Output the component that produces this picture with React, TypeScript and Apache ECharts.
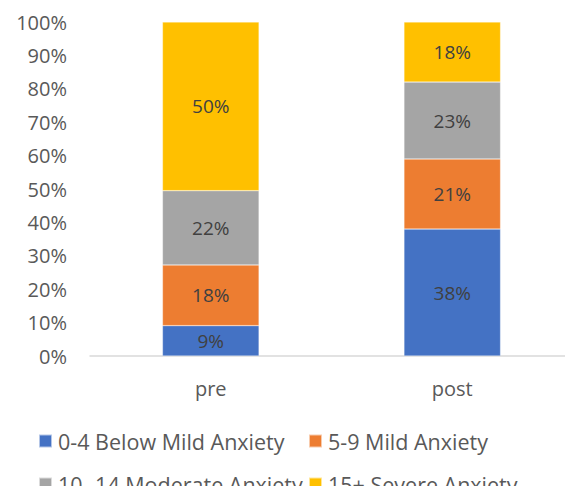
import React, { useEffect, useRef } from "react";
import * as echarts from "echarts";

// Survey groups on the x axis
const categories = ["pre", "post"];

// Share of respondents (%) per anxiety band, per group
const belowMild = [9, 38];
const mild = [18, 21];
const moderate = [22, 23];
const severe = [50, 18];

const seriesNames = [
  "0-4 Below Mild Anxiety",
  "5-9 Mild Anxiety",
  "10 -14 Moderate Anxiety",
  "15+ Severe Anxiety",
];

const yTicks = [0, 10, 20, 30, 40, 50, 60, 70, 80, 90, 100];

const colors = ["#4472C4", "#ED7D31", "#A5A5A5", "#FFC000"];

const FONT = "'Open Sans', sans-serif";

// Legend laid out as a 2x2 grid: [left, top] per entry
const legendSlots: [number, number][] = [
  [38, 430],
  [308, 430],
  [38, 473],
  [308, 473],
];

export default function App() {
  const ref = useRef<HTMLDivElement>(null);

  useEffect(() => {
    if (!ref.current) return;
    const chart = echarts.init(ref.current, undefined, { renderer: "svg" });

    const all = [belowMild, mild, moderate, severe];
    // 100% stacked: each column is scaled so its bands fill the full height
    const totals = categories.map((_, i) => all.reduce((s, arr) => s + arr[i], 0));

    const series = all.map((arr, k) => ({
      name: seriesNames[k],
      type: "bar",
      stack: "total",
      barWidth: "40%",
      itemStyle: { color: colors[k], borderColor: "rgba(255,255,255,0.6)", borderWidth: 0.5 },
      label: {
        show: true,
        position: "inside",
        color: "#404040",
        fontSize: 19,
        fontFamily: FONT,
        formatter: (p: any) => `${arr[p.dataIndex]}%`,
      },
      data: arr.map((v, i) => (v / totals[i]) * 100),
    }));

    const legends = seriesNames.map((name, k) => ({
      left: legendSlots[k][0],
      top: legendSlots[k][1],
      padding: 0,
      itemWidth: 13,
      itemHeight: 13,
      icon: "rect",
      data: [name],
      textStyle: { color: "#595959", fontSize: 21.5, fontFamily: FONT, padding: [0, 0, 0, 1] },
    }));

    chart.setOption({
      animation: false,
      color: colors,
      grid: { left: 90, right: 0, top: 22, bottom: 138 },
      xAxis: {
        type: "category",
        data: categories,
        axisTick: { show: false },
        axisLine: { lineStyle: { color: "#D9D9D9", width: 1.5 } },
        axisLabel: { color: "#595959", fontSize: 20, fontFamily: FONT, margin: 22 },
      },
      yAxis: {
        type: "value",
        min: yTicks[0],
        max: yTicks[yTicks.length - 1],
        interval: 10,
        splitLine: { show: false },
        axisLine: { show: false },
        axisTick: { show: false },
        axisLabel: {
          color: "#595959",
          fontSize: 20,
          fontFamily: FONT,
          margin: 23,
          formatter: (v: number) => `${v}%`,
        },
      },
      legend: legends,
      series,
    });

    return () => chart.dispose();
  }, []);

  return <div ref={ref} style={{ width: 573, height: 494, margin: -8 }} />;
}
